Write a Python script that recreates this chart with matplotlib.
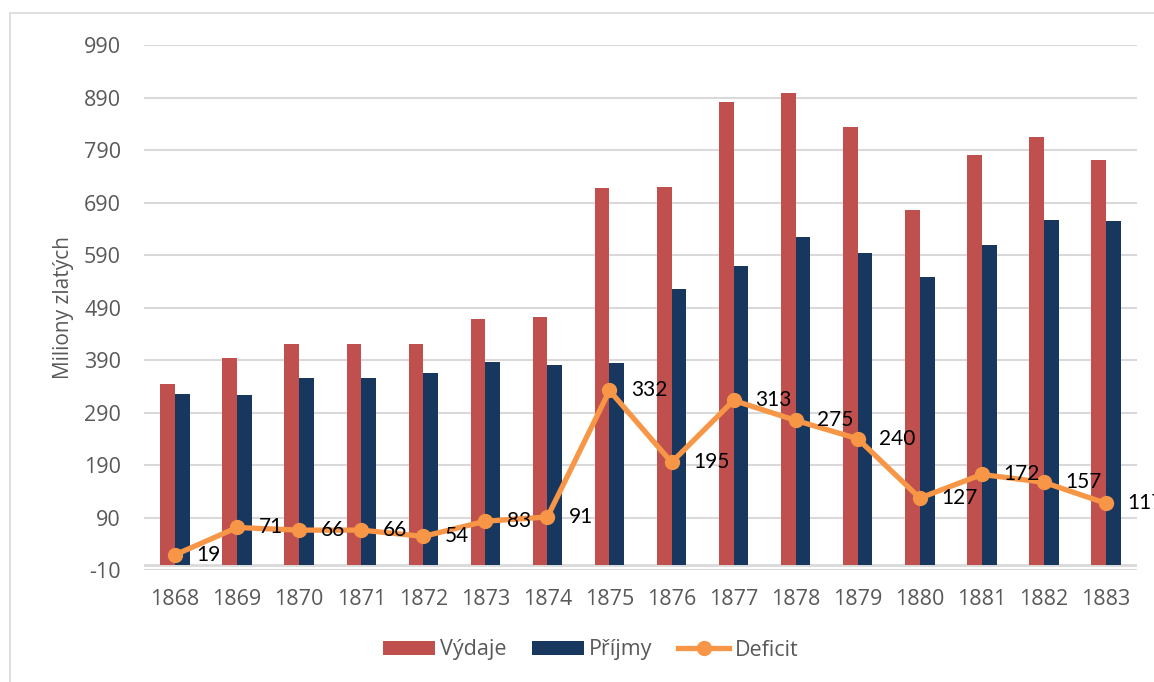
import matplotlib
matplotlib.use("Agg")
import matplotlib.pyplot as plt
import numpy as np
from matplotlib.lines import Line2D
from matplotlib.patches import Patch, Rectangle

years = ["1868", "1869", "1870", "1871", "1872", "1873", "1874", "1875",
         "1876", "1877", "1878", "1879", "1880", "1881", "1882", "1883"]
vydaje = [344, 394, 421, 421, 420, 469, 471, 717, 720, 882, 899, 833, 675, 781, 814, 771]
prijmy = [325, 323, 355, 355, 366, 386, 380, 385, 525, 569, 624, 593, 548, 609, 657, 654]
deficit = [19, 71, 66, 66, 54, 83, 91, 332, 195, 313, 275, 240, 127, 172, 157, 117]
yticks = list(range(-10, 991, 100))

RED = "#C0504D"
NAVY = "#17375E"
ORANGE = "#F79646"
GRAY = "#595959"
GRID = "#D9D9D9"
FONT = ["Open Sans", "DejaVu Sans"]

plt.rcParams["font.family"] = FONT

fig = plt.figure(figsize=(11.54, 6.82), dpi=100)
ax = fig.add_axes([0.1248, 0.1642, 0.8605, 0.7698])

# outer chart border
fig.patches.append(Rectangle((10 / 1154, -0.05), 1.2, (682 - 13) / 682 + 0.05,
                             transform=fig.transFigure, fill=False,
                             edgecolor=GRID, linewidth=1.2))

x = np.arange(len(years))
w = 0.237
ax.bar(x - w / 2, vydaje, width=w, color=RED, label="Výdaje", zorder=2)
ax.bar(x + w / 2, prijmy, width=w, color=NAVY, label="Příjmy", zorder=2)
ax.plot(x, deficit, color=ORANGE, linewidth=3.8, marker="o", markersize=10,
        label="Deficit", zorder=3)

for xi, d in zip(x, deficit):
    ax.annotate(str(d), (xi, d), xytext=(15.5, 0), textcoords="offset points",
                ha="left", va="center", fontsize=15, color="black",
                family=["Lato", "DejaVu Sans"], zorder=4)

ax.set_xlim(-0.5, len(years) - 0.5)
ax.set_ylim(-10, 990)
ax.set_yticks(yticks)
ax.set_yticklabels([str(t) for t in yticks])
ax.set_xticks(x)
ax.set_xticklabels(years)
ax.tick_params(axis="both", length=0, labelsize=15.5, labelcolor=GRAY)
ax.tick_params(axis="y", pad=16.5)
ax.tick_params(axis="x", pad=14)

ax.yaxis.grid(True, color=GRID, linewidth=1.5, zorder=0)
ax.set_axisbelow(True)
ax.axhline(0, color=GRID, linewidth=2, zorder=1)
for s in ax.spines.values():
    s.set_visible(False)

ax.set_ylabel("Miliony zlatých", fontsize=15, color=GRAY, labelpad=7)

handles = [Patch(facecolor=RED, label="Výdaje"),
           Patch(facecolor=NAVY, label="Příjmy"),
           Line2D([0], [0], color=ORANGE, linewidth=3.8, marker="o",
                  markersize=10, label="Deficit")]
leg = fig.legend(handles=handles, loc="center", bbox_to_anchor=(590.5 / 1154, 1 - 650 / 682),
                 ncol=3, frameon=False, fontsize=15.5, handlelength=2.4,
                 handleheight=0.6, handletextpad=0.23, columnspacing=1.2)
for t in leg.get_texts():
    t.set_color(GRAY)

fig.savefig("out.png", dpi=100)
